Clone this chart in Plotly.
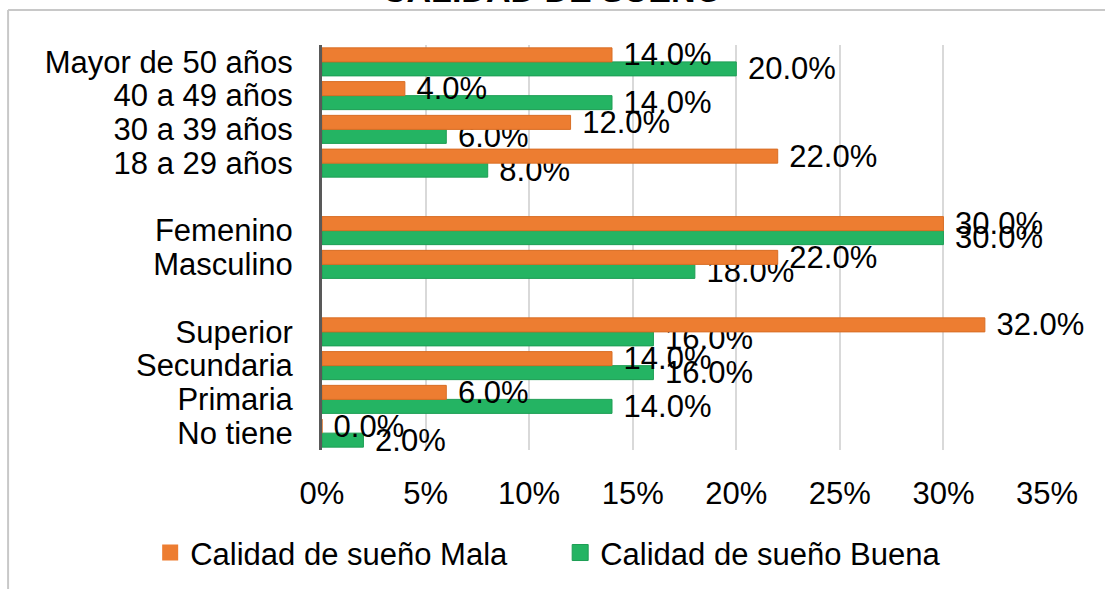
import plotly.graph_objects as go

# categories listed top to bottom, blank entries are the gaps between groups
categories = ["Mayor de 50 años", "40 a 49 años", "30 a 39 años", "18 a 29 años", " ",
              "Femenino", "Masculino", "  ",
              "Superior", "Secundaria", "Primaria", "No tiene"]
mala = [14.0, 4.0, 12.0, 22.0, None, 30.0, 22.0, None, 32.0, 14.0, 6.0, 0.0]
buena = [20.0, 14.0, 6.0, 8.0, None, 30.0, 18.0, None, 16.0, 16.0, 14.0, 2.0]
x_ticks = [0, 5, 10, 15, 20, 25, 30, 35]
x_labels = ["0%", "5%", "10%", "15%", "20%", "25%", "30%", "35%"]

orange = "#ED7D31"
green = "#24B463"
font = "Liberation Sans, Arial, sans-serif"
fsize = 31

fig = go.Figure()
fig.add_trace(go.Bar(y=categories, x=buena, orientation="h", name="Calidad de sueño Buena",
                     marker=dict(color=green, line=dict(color="#1E9E55", width=1)),
                     texttemplate="\u00a0%{x:.1f}%", textposition="outside",
                     constraintext="none", cliponaxis=False, showlegend=False,
                     textfont=dict(size=fsize, color="black", family=font)))
fig.add_trace(go.Bar(y=categories, x=mala, orientation="h", name="Calidad de sueño Mala",
                     marker=dict(color=orange, line=dict(color="#D86E25", width=1)),
                     texttemplate="\u00a0%{x:.1f}%", textposition="outside",
                     constraintext="none", cliponaxis=False, showlegend=False,
                     textfont=dict(size=fsize, color="black", family=font)))

# legend entries with bigger square swatches
fig.add_trace(go.Scatter(x=[None], y=[None], mode="markers", name="Calidad de sueño Mala",
                         marker=dict(symbol="square", size=16, color=orange), legendrank=1))
fig.add_trace(go.Scatter(x=[None], y=[None], mode="markers", name="Calidad de sueño Buena",
                         marker=dict(symbol="square", size=16, color=green,
                                     line=dict(color="#1E9E55", width=1)), legendrank=2))

fig.update_layout(
    template="none",
    width=1105, height=589,
    margin=dict(l=322, r=58, t=45, b=139, autoexpand=False),
    paper_bgcolor="white", plot_bgcolor="white",
    barmode="group", bargap=0.17, bargroupgap=0.0,
    font=dict(family=font, size=fsize, color="black"),
    showlegend=True,
    legend=dict(orientation="h", x=-0.237, xanchor="left",
                y=-0.254, yanchor="middle", font=dict(size=fsize), traceorder="normal",
                itemwidth=30, entrywidth=365),
    annotations=[dict(text="<b>CALIDAD DE SUEÑO</b>", xref="paper", yref="paper",
                      x=0.317, y=1.083, xanchor="center", yanchor="bottom",
                      showarrow=False, font=dict(size=34, color="black"))],
    shapes=[
        dict(type="line", xref="paper", yref="paper", x0=-0.433, x1=1.2, y0=1.0864, y1=1.0864,
             line=dict(color="#C8C8C8", width=2)),
        dict(type="line", xref="paper", yref="paper", x0=-0.433, x1=-0.433, y0=1.0864, y1=-0.5,
             line=dict(color="#C8C8C8", width=2)),
    ],
)
fig.update_xaxes(range=[0, 35], tickmode="array", tickvals=x_ticks, ticktext=x_labels,
                 showgrid=True, gridcolor="#D9D9D9", gridwidth=2, zeroline=False,
                 showline=False, ticks="", ticklabelstandoff=22,
                 tickfont=dict(size=fsize), automargin=False)
fig.update_yaxes(type="category", categoryorder="array", categoryarray=categories[::-1],
                 tickmode="linear", dtick=1, ticks="",
                 showline=True, linecolor="#595959", linewidth=3, showgrid=False,
                 ticklabelstandoff=20, tickfont=dict(size=fsize), automargin=False)

fig.write_html("out.html", config={"displayModeBar": False},
               post_script="document.body.style.margin='0';")
